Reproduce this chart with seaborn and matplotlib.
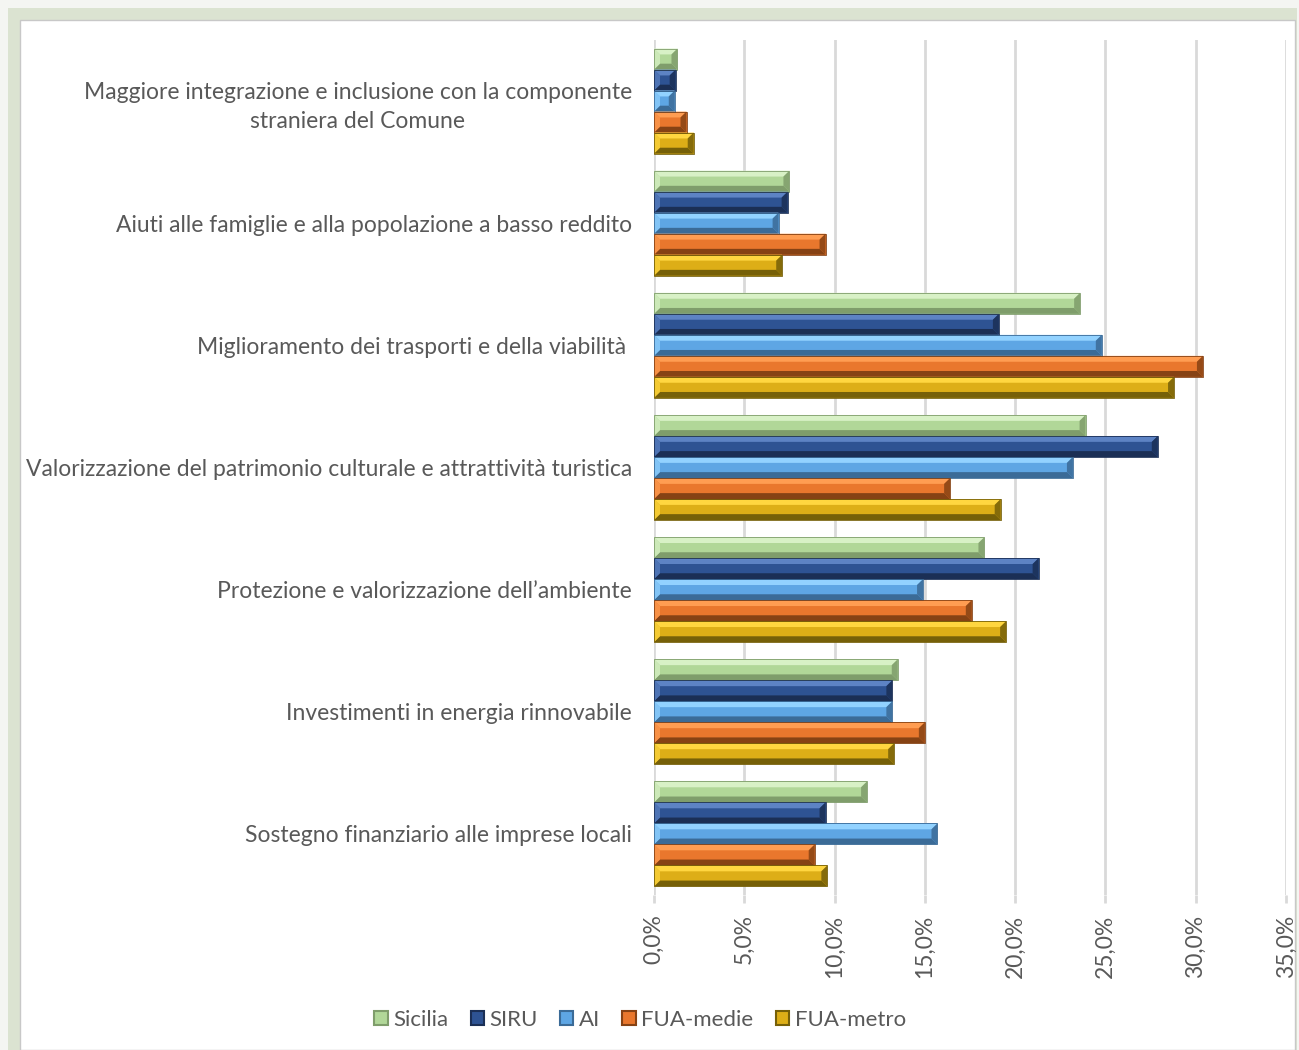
import numpy as np
import pandas as pd
import seaborn as sns
import matplotlib.pyplot as plt
from matplotlib.patches import Polygon, Rectangle, Patch
from matplotlib.ticker import FuncFormatter

categories = [
    "Maggiore integrazione e inclusione con la componente\nstraniera del Comune",
    "Aiuti alle famiglie e alla popolazione a basso reddito",
    "Miglioramento dei trasporti e della viabilità ",
    "Valorizzazione del patrimonio culturale e attrattività turistica",
    "Protezione e valorizzazione dell\u2019ambiente",
    "Investimenti in energia rinnovabile",
    "Sostegno finanziario alle imprese locali",
]
series = ["Sicilia", "SIRU", "AI", "FUA-medie", "FUA-metro"]

sicilia = [1.3, 7.5, 23.6, 23.9, 18.3, 13.5, 11.8]
siru = [1.2, 7.4, 19.1, 27.9, 21.3, 13.2, 9.5]
ai = [1.15, 6.9, 24.8, 23.2, 14.9, 13.2, 15.7]
fua_medie = [1.8, 9.5, 30.4, 16.4, 17.6, 15.0, 8.9]
fua_metro = [2.2, 7.1, 28.8, 19.2, 19.5, 13.3, 9.6]

x_ticks = [0, 5, 10, 15, 20, 25, 30, 35]

# colori: base, chiaro (bevel alto), scuro (bevel basso)
base = {"Sicilia": "#b1d798", "SIRU": "#2e5393", "AI": "#5ea6e4",
        "FUA-medie": "#e9772d", "FUA-metro": "#ddae17"}
light = {"Sicilia": "#d8f1c6", "SIRU": "#5d83c4", "AI": "#92d2ff",
         "FUA-medie": "#ff9d52", "FUA-metro": "#ffd640"}
dark = {"Sicilia": "#7f9d6b", "SIRU": "#1b2f55", "AI": "#3b6b97",
        "FUA-medie": "#864214", "FUA-metro": "#766008"}

df = pd.DataFrame({
    "categoria": np.repeat(categories, len(series)),
    "serie": series * len(categories),
    "valore": np.column_stack([sicilia, siru, ai, fua_medie, fua_metro]).ravel(),
})

plt.rcParams['font.family'] = ['Lato', 'DejaVu Sans']
fig = plt.figure(figsize=(12.99, 10.5), dpi=100)
fig.patch.set_facecolor("#f4f5f2")

# cornice
W, H = 1299, 1050
fig.add_artist(Rectangle((8 / W, 0), (1297 - 8) / W, (H - 8) / H, transform=fig.transFigure,
                         facecolor="#dbe3d1", edgecolor="none", zorder=-3))
fig.add_artist(Rectangle((20 / W, 0), (1295 - 20) / W, (H - 20) / H, transform=fig.transFigure,
                         facecolor="white", edgecolor="#c8c8c8", lw=1, zorder=-2))

ax = fig.add_axes([654 / W, 1 - 895 / H, (1286 - 654) / W, (895 - 40) / H])
ax.set_facecolor("none")

sns.barplot(data=df, y="categoria", x="valore", hue="serie", hue_order=series,
            palette=base, width=0.86, orient="h", ax=ax, legend=False,
            saturation=1, edgecolor="none", zorder=3)

ax.set_xlim(0, 35)
ax.set_ylim(6.5, -0.5)
ax.set_xticks(x_ticks)
ax.xaxis.set_major_formatter(FuncFormatter(lambda v, p: f"{v:.1f}%".replace(".", ",")))
ax.grid(axis="x", color="#d9d9d9", lw=2, zorder=0)
ax.grid(axis="y", visible=False)
for s in ax.spines.values():
    s.set_visible(False)
ax.set_xlabel("")
ax.set_ylabel("")
ax.tick_params(axis="x", colors="#d9d9d9", length=6, width=2, labelcolor="#595959",
               labelsize=16.5, labelrotation=90, pad=8)
ax.tick_params(axis="y", length=0, labelcolor="#595959", labelsize=16.5, pad=16)
for lab in ax.get_yticklabels():
    lab.set_multialignment("center")
    lab.set_linespacing(1.45)

# effetto bevel sulle barre
px_per_x = (1286 - 654) / 35
bx = 6 / px_per_x
for i, patch in enumerate(list(ax.patches)):
    name = series[i // len(categories)]
    x0, y0 = patch.get_x(), patch.get_y()
    w, h = patch.get_width(), patch.get_height()
    x1, y1 = x0 + w, y0 + h
    by = h * 0.28
    b = min(bx, w / 2)
    ax.add_patch(Polygon([(x0, y0), (x1, y0), (x1 - b, y0 + by), (x0 + b, y0 + by)],
                         facecolor=light[name], edgecolor="none", zorder=4))
    ax.add_patch(Polygon([(x0, y1), (x1, y1), (x1 - b, y1 - by), (x0 + b, y1 - by)],
                         facecolor=dark[name], edgecolor="none", zorder=4))
    ax.add_patch(Polygon([(x1, y0), (x1, y1), (x1 - b, y1 - by), (x1 - b, y0 + by)],
                         facecolor=dark[name], edgecolor="none", zorder=4, alpha=0.85))
    ax.add_patch(Polygon([(x0, y0), (x0, y1), (x0 + b, y1 - by), (x0 + b, y0 + by)],
                         facecolor=light[name], edgecolor="none", zorder=4, alpha=0.7))
    ax.add_patch(Rectangle((x0, y0), w, h, facecolor="none", edgecolor=dark[name],
                           lw=0.6, zorder=5))

handles = [Patch(facecolor=base[s], edgecolor=dark[s], lw=1.5) for s in series]
fig.legend(handles, series, loc="center", bbox_to_anchor=(640 / W, 1 - 1020 / H), ncol=5,
           frameon=False, fontsize=16, labelcolor="#595959", handlelength=0.6,
           handleheight=0.6, handletextpad=0.25, columnspacing=1.0)

fig.savefig("out.png", dpi=100, facecolor=fig.get_facecolor())
